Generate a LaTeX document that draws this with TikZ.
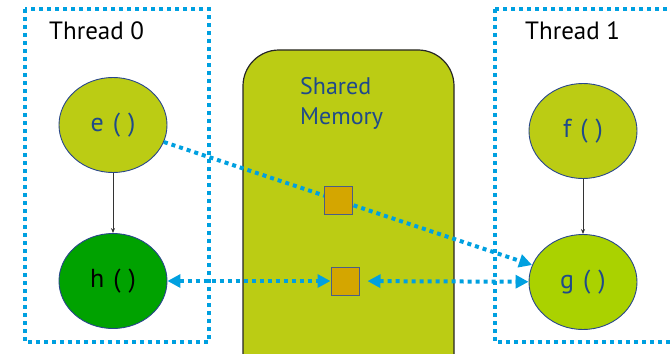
\documentclass[tikz,border=0pt]{standalone}
\usepackage{fontspec}
\setmainfont{PT Sans}
\usetikzlibrary{arrows.meta,shapes.geometric}
\definecolor{olivefill}{RGB}{187,204,20}
\definecolor{hfill}{RGB}{0,162,0}
\definecolor{gfill}{RGB}{170,210,0}
\definecolor{sqfill}{RGB}{212,166,0}
\definecolor{dotblue}{RGB}{0,160,224}
\definecolor{txtblue}{RGB}{31,74,138}
\definecolor{edgeblue}{RGB}{40,70,140}
\newcommand{\fnlabel}[1]{#1\hspace{9pt}(\hspace{8pt})}
\tikzset{
  fn/.style={ellipse, draw=edgeblue, line width=0.9pt, minimum width=108pt, minimum height=95pt, inner sep=0pt, font=\fontsize{26}{30}\selectfont},
  thread/.style={draw=dotblue, line width=4pt, dash pattern=on 4pt off 4pt},
  comm/.style={draw=dotblue, line width=4pt, dash pattern=on 4pt off 4pt},
  memsq/.style={rectangle, draw=edgeblue!60!gray, line width=1pt, fill=sqfill, minimum size=28pt, inner sep=0pt},
  seq/.style={draw=black!80, line width=0.8pt, -{Stealth[length=5pt,width=4pt]}},
  lbl/.style={font=\fontsize{25}{30}\selectfont}
}
\begin{document}
\begin{tikzpicture}[x=1pt,y=-1pt]
\useasboundingbox (0,0) rectangle (671,353);
\clip (0,0) rectangle (671,353);
% thread boxes
\draw[thread] (25,9) rectangle (209,342);
\draw[thread] (495,9) rectangle (720,342);
\node[lbl, anchor=base west, inner sep=0pt] (t0) at (49,40) {Thread 0};
\node[lbl, anchor=base west, inner sep=0pt] (t1) at (525,40) {Thread 1};
% shared memory
\draw[fill=olivefill, draw=black!85, line width=1.2pt, rounded corners=36pt] (243,50) rectangle (454,400);
\node[lbl, text=txtblue, align=left, anchor=base west, inner sep=0pt, font=\fontsize{24}{30}\selectfont] (sm) at (300,124) {Shared\\Memory};
% functions
\node[fn, fill=olivefill, text=txtblue] (e) at (113,125) {\fnlabel{e}};
\node[fn, fill=hfill, text=black] (h) at (113,281) {\fnlabel{h}};
\node[fn, fill=olivefill, text=txtblue] (f) at (583,131) {\fnlabel{f}};
\node[fn, fill=gfill, text=txtblue] (g) at (583,282) {\fnlabel{g}};
\draw[seq] (e) -- (h);
\draw[seq] (f) -- (g);
% communication
\draw[comm, -{Triangle[length=13pt,width=13pt]}] (e) -- (g);
\node[memsq] (s1) at (338,200) {};
\node[memsq] (s2) at (345,281) {};
\draw[comm, {Triangle[length=13pt,width=13pt]}-{Triangle[length=13pt,width=13pt]}] (h) -- (s2);
\draw[comm, {Triangle[length=13pt,width=13pt]}-{Triangle[length=13pt,width=13pt]}, shorten <=8pt] (s2) -- (g);
\end{tikzpicture}
\end{document}
